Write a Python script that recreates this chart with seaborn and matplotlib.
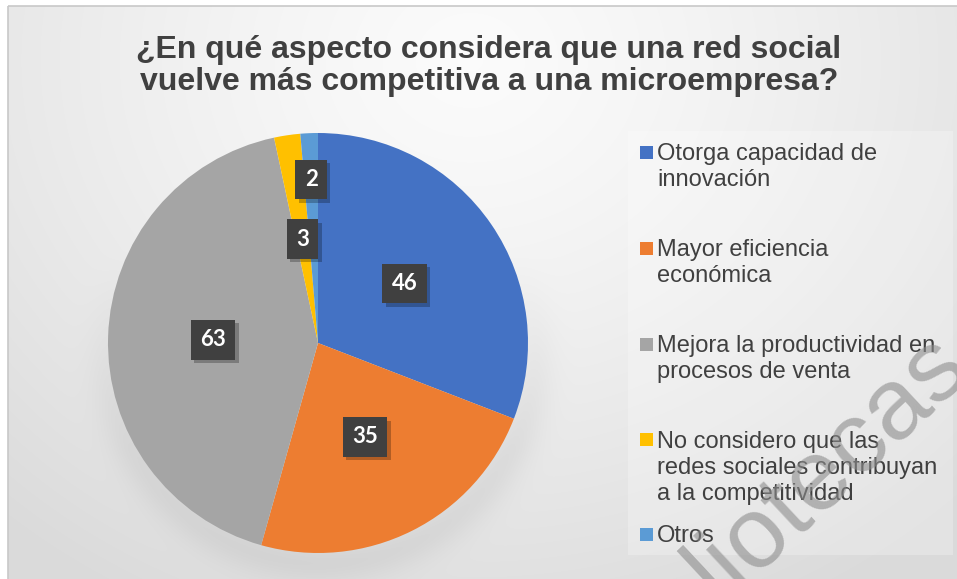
import numpy as np
import matplotlib
matplotlib.use("Agg")
import matplotlib.pyplot as plt
import matplotlib.patheffects as pe
from matplotlib.patches import Rectangle
import seaborn as sns

sns.set_theme(style="white")
plt.rcParams['font.family'] = ['Liberation Sans', 'DejaVu Sans']

title = "¿En qué aspecto considera que una red social\nvuelve más competitiva a una microempresa?"
categories = [
    "Otorga capacidad de\ninnovación",
    "Mayor eficiencia\neconómica",
    "Mejora la productividad en\nprocesos de venta",
    "No considero que las\nredes sociales contribuyan\na la competitividad",
    "Otros",
]
values = [46, 35, 63, 3, 2]
colors = ["#4472C4", "#ED7D31", "#A5A5A5", "#FFC000", "#5B9BD5"]

W, H = 957, 579
fig = plt.figure(figsize=(W / 100, H / 100), dpi=100)
fig.patch.set_facecolor("white")

# soft radial background of the chart area
bg = fig.add_axes([0, 0, 1, 1], zorder=0)
yy, xx = np.mgrid[0:H, 0:W]
d = np.sqrt(((xx - 470) / 1.15) ** 2 + (yy - 60) ** 2)
shade = 0.985 - 0.13 * np.clip(d / 620, 0, 1) ** 1.3
# faint shadow below the pie
pd_ = np.sqrt((xx - 322) ** 2 + (yy - 350) ** 2)
wgt = np.clip((yy - 250) / 200, 0, 1)
shade -= 0.05 * np.exp(-((pd_ - 212) / 22) ** 2) * wgt
img = np.dstack([shade] * 3)
img[:6, :, :] = 1.0
img[:, :8, :] = 1.0
bg.imshow(img, extent=[0, W, H, 0], aspect="auto", interpolation="bilinear")
bg.add_patch(Rectangle((8, 6), W, H, fill=False, ec="#c8c8c8", lw=1.2))
bg.set_xlim(0, W)
bg.set_ylim(H, 0)
bg.axis("off")

# pie
cx, cy, r = 318, 343, 210
ax = fig.add_axes([(cx - r) / W, (H - cy - r) / H, 2 * r / W, 2 * r / H], zorder=2)
wedges, _ = ax.pie(values, colors=colors, startangle=90, counterclock=False,
                   radius=1.0, wedgeprops=dict(linewidth=0))
ax.set_xlim(-1, 1)
ax.set_ylim(-1, 1)
ax.set_aspect("equal")
ax.axis("off")

label_r = [0.5, 0.5, 0.5, 0.5, 0.78]
for w, v, lr in zip(wedges, values, label_r):
    ang = np.deg2rad((w.theta1 + w.theta2) / 2)
    t = ax.text(lr * np.cos(ang), lr * np.sin(ang), str(v), ha="center", va="center",
                color="white", fontsize=16, fontweight="bold", family=["Lato", "DejaVu Sans"],
                bbox=dict(boxstyle="square,pad=0.42", fc="#404040", ec="none"))
    t.get_bbox_patch().set_path_effects([
        pe.SimplePatchShadow(offset=(2.5, -2.5), shadow_rgbFace="black", alpha=0.25),
        pe.Normal()])

# title
fig.text(489 / W, 1 - 66 / H, title, ha="center", va="center", fontsize=23,
         fontweight="bold", color="#404040", linespacing=1.08)

# legend panel
bg.add_patch(Rectangle((628, 131), 325, 424, fc="white", ec="none", alpha=0.25))
leg_y = [152, 248, 344, 439, 534]
line_px = 26.7
for lab, col, y in zip(categories, colors, leg_y):
    n = lab.count("\n")
    bg.add_patch(Rectangle((640, y - 6), 13, 13, fc=col, ec="none"))
    # baseline alignment applies to the last line of a multi-line text
    bg.text(657, y + 7.5 + n * line_px, lab, ha="left", va="baseline", fontsize=17,
            color="#404040", linespacing=1.23)

# diagonal watermark
bg.text(972, 370, "bibliotecas", ha="right", va="baseline", rotation=43,
        rotation_mode="anchor", fontsize=73, color="#8c8c8c", alpha=0.6, zorder=5)

fig.savefig("out.png", dpi=100)
